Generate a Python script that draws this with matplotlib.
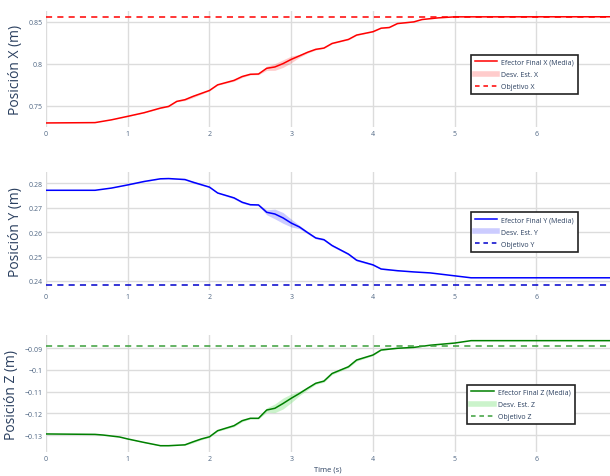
import numpy as np
import matplotlib.pyplot as plt
from matplotlib.lines import Line2D

plt.rcParams['font.family'] = ['Open Sans', 'DejaVu Sans']

# Posición X del efector final: tiempo, media, desviación estándar
t_x = [0.0, 0.6, 0.8, 1.0, 1.2, 1.4, 1.5, 1.6, 1.7, 1.8, 1.9, 2.0, 2.1, 2.3, 2.4, 2.5, 2.6,
       2.7, 2.8, 2.9, 3.0, 3.1, 3.2, 3.3, 3.4, 3.5, 3.7, 3.8, 4.0, 4.1, 4.2, 4.3, 4.5, 4.6,
       4.8, 5.0, 6.9]
x_mean = [0.7293, 0.7297, 0.7330, 0.7372, 0.7415, 0.7470, 0.7490, 0.7550, 0.7570, 0.7610,
          0.7645, 0.7680, 0.7747, 0.7800, 0.7846, 0.7873, 0.7876, 0.7944, 0.7960, 0.8000,
          0.8050, 0.8092, 0.8135, 0.8170, 0.8185, 0.8240, 0.8288, 0.8340, 0.8380, 0.8422,
          0.8430, 0.8477, 0.8497, 0.8525, 0.8545, 0.8557, 0.8558]
x_std = [0, 0, 0, 0.0003, 0.0003, 0.0005, 0.0005, 0.0005, 0.001, 0.0015, 0.001, 0.0005,
         0.0005, 0.001, 0.0012, 0.0008, 0.0008, 0.0025, 0.004, 0.0045, 0.004, 0.0018, 0.001,
         0.0008, 0.0005, 0.0005, 0.0005, 0.0005, 0.0004, 0.0003, 0.0003, 0.0002, 0.0002,
         0.0001, 0, 0, 0]
x_goal = 0.8557

# Posición Y
t_y = [0.0, 0.6, 0.8, 1.0, 1.2, 1.4, 1.5, 1.7, 1.8, 1.9, 2.0, 2.1, 2.3, 2.4, 2.5, 2.6, 2.7,
       2.8, 2.9, 3.0, 3.1, 3.2, 3.3, 3.4, 3.5, 3.7, 3.8, 4.0, 4.1, 4.3, 4.5, 4.7, 5.0, 5.2, 6.9]
y_mean = [0.2771, 0.2771, 0.2780, 0.2793, 0.2807, 0.2818, 0.2819, 0.2815, 0.2804, 0.2794,
          0.2784, 0.2760, 0.2740, 0.2722, 0.2712, 0.2711, 0.2681, 0.2674, 0.2658, 0.2637,
          0.2621, 0.2598, 0.2576, 0.2569, 0.2545, 0.2510, 0.2485, 0.2466, 0.2449, 0.2442,
          0.2437, 0.2433, 0.2421, 0.2413, 0.2413]
y_std = [0, 0, 0, 0.0001, 0.0001, 0.0001, 0.0001, 0.0002, 0.0004, 0.0003, 0.0002, 0.0002,
         0.0004, 0.0004, 0.0003, 0.0003, 0.001, 0.002, 0.0022, 0.0016, 0.0007, 0.0005,
         0.0004, 0.0004, 0.0004, 0.0004, 0.0004, 0.0003, 0.0002, 0.0001, 0, 0, 0, 0, 0]
y_goal = 0.2384

# Posición Z
t_z = [0.0, 0.6, 0.7, 0.9, 1.0, 1.2, 1.4, 1.5, 1.7, 1.8, 1.9, 2.0, 2.1, 2.3, 2.4, 2.5, 2.6,
       2.7, 2.8, 2.9, 3.0, 3.1, 3.2, 3.3, 3.4, 3.5, 3.7, 3.8, 4.0, 4.1, 4.3, 4.5, 4.7, 5.0,
       5.2, 6.9]
z_mean = [-0.1295, -0.1297, -0.1300, -0.1309, -0.1318, -0.1334, -0.1349, -0.1349, -0.1345,
          -0.1331, -0.1318, -0.1308, -0.1280, -0.1257, -0.1234, -0.1223, -0.1223, -0.1185,
          -0.1177, -0.1155, -0.1131, -0.1109, -0.1085, -0.1062, -0.1052, -0.1017, -0.0986,
          -0.0955, -0.0932, -0.0909, -0.0901, -0.0897, -0.0887, -0.0877, -0.0866, -0.0866]
z_std = [0, 0, 0, 0, 0.0001, 0.0001, 0.0001, 0.0001, 0.0002, 0.0005, 0.0004, 0.0003, 0.0003,
         0.0005, 0.0005, 0.0003, 0.0003, 0.001, 0.002, 0.0025, 0.002, 0.001, 0.0007,
         0.0005, 0.0005, 0.0005, 0.0005, 0.0005, 0.0003, 0.0002, 0.0001, 0, 0, 0, 0, 0]
z_goal = -0.0889

x_ticks = [0, 1, 2, 3, 4, 5, 6]

panels = [
    dict(t=t_x, m=x_mean, s=x_std, goal=x_goal, axis='X', line='#ff0000', band=(1, 0, 0, 0.2),
         goal_c='#ff0000', ylim=(0.7245, 0.8627), yt=[0.75, 0.8, 0.85],
         ytl=['0.75', '0.8', '0.85'], pos=[0.0754, 0.7317, 0.9246, 0.2432], leg=(0.753, 0.623)),
    dict(t=t_y, m=y_mean, s=y_std, goal=y_goal, axis='Y', line='#0000ff', band=(0, 0, 1, 0.2),
         goal_c='#0000cc', ylim=(0.2363, 0.2845), yt=[0.24, 0.25, 0.26, 0.27, 0.28],
         ytl=['0.24', '0.25', '0.26', '0.27', '0.28'], pos=[0.0754, 0.3899, 0.9246, 0.2470],
         leg=(0.753, 0.660)),
    dict(t=t_z, m=z_mean, s=z_std, goal=z_goal, axis='Z', line='#008000',
         band=(0.55, 0.9, 0.55, 0.45), goal_c='#3a9f3a', ylim=(-0.1378, -0.0840),
         yt=[-0.13, -0.12, -0.11, -0.1, -0.09],
         ytl=['\u22120.13', '\u22120.12', '\u22120.11', '\u22120.1', '\u22120.09'],
         pos=[0.0754, 0.0503, 0.9246, 0.2453], leg=(0.747, 0.575)),
]

fig = plt.figure(figsize=(6.10, 4.77), dpi=100)
dash = (0, (4.0, 3.4))

for p in panels:
    ax = fig.add_axes(p['pos'])
    t = np.array(p['t'])
    m = np.array(p['m'])
    s = np.array(p['s'])
    ax.fill_between(t, m - s, m + s, color=p['band'], lw=0, zorder=2)
    ax.plot(t, m, color=p['line'], lw=1.1, zorder=3)
    ax.axhline(p['goal'], color=p['goal_c'], lw=1.1, linestyle=dash, zorder=3)

    ax.set_xlim(0, 6.9)
    ax.set_ylim(*p['ylim'])
    ax.set_xticks(x_ticks)
    ax.set_xticklabels([str(v) for v in x_ticks])
    ax.set_yticks(p['yt'])
    ax.set_yticklabels(p['ytl'])
    ax.grid(True, color='#dcdcdc', lw=1)
    ax.set_axisbelow(True)
    for sp in ax.spines.values():
        sp.set_visible(False)
    ax.tick_params(length=0, labelsize=5, labelcolor='#506784', pad=2.5)
    ax.set_ylabel(f"Posición {p['axis']} (m)", fontsize=10, color='#2a3f5f', labelpad=4)

    handles = [
        Line2D([], [], color=p['line'], lw=1.1),
        Line2D([], [], color=p['band'], lw=4),
        Line2D([], [], color=p['goal_c'], lw=1.1, linestyle=(0, (3.0, 2.5))),
    ]
    labels = [f"Efector Final {p['axis']} (Media)", f"Desv. Est. {p['axis']}",
              f"Objetivo {p['axis']}"]
    leg = ax.legend(handles, labels, loc='upper left', bbox_to_anchor=p['leg'], fontsize=5,
                    frameon=True, fancybox=False, framealpha=1, edgecolor='#222222',
                    handlelength=3.2, handletextpad=0.6, labelspacing=0.75,
                    borderpad=0.6, borderaxespad=0)
    leg.get_frame().set_linewidth(1.2)
    for txt in leg.get_texts():
        txt.set_color('#2a3f5f')

fig.text(0.5377, 0.008, 'Time (s)', fontsize=5.5, color='#2a3f5f', ha='center', va='bottom')

plt.savefig('out.png', dpi=100)
